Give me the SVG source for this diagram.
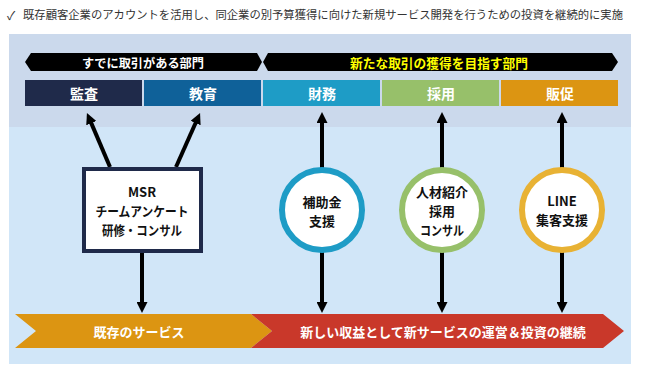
<svg xmlns="http://www.w3.org/2000/svg" width="645" height="368" viewBox="0 0 645 368">
<style>
text{font-family:"Noto Sans CJK JP","Noto Sans",sans-serif;text-anchor:middle;dominant-baseline:central}
.b{font-weight:bold}
.w{fill:#fff}
.dept{font-size:14px;font-weight:bold;fill:#fff}
.node{font-size:13px;font-weight:bold;fill:#111}
.conn{stroke:#000;stroke-width:4;fill:none}
</style>
<defs>
<marker id="ah" markerUnits="userSpaceOnUse" markerWidth="11" markerHeight="11" refX="3" refY="5.5" orient="auto">
<path d="M0,0 L11,5.5 L0,11 z" fill="#000"/>
</marker>
</defs>
<rect width="645" height="368" fill="#fff"/>
<g id="title">
<text x="11" y="14" style="font-size:12px;fill:#333">✓</text>
<text x="323" y="14" textLength="600" lengthAdjust="spacingAndGlyphs" style="font-size:11.5px;fill:#333">既存顧客企業のアカウントを活用し、同企業の別予算獲得に向けた新規サービス開発を行うための投資を継続的に実施</text>
</g>
<g id="panel">
<rect x="9" y="34" width="622" height="93" fill="#cbd9ec"/>
<rect x="9" y="127" width="622" height="237" fill="#d1e6f8"/>
</g>
<g id="banner-existing">
<polygon points="25,62 31,53 257,53 262,62 257,71 31,71" fill="#000"/>
<text x="143" y="62" class="b w" style="font-size:12.5px" textLength="122" lengthAdjust="spacingAndGlyphs">すでに取引がある部門</text>
</g>
<g id="banner-new">
<polygon points="263,62 268,53 612,53 618,62 612,71 268,71" fill="#000"/>
<text x="439" y="62" class="b" style="font-size:13px;fill:#ffff00" textLength="178" lengthAdjust="spacingAndGlyphs">新たな取引の獲得を目指す部門</text>
</g>
<g id="dept-kansa"><rect x="25" y="80" width="117" height="26" fill="#1f2a4a"/><text x="84" y="93" class="dept">監査</text></g>
<g id="dept-kyoiku"><rect x="144" y="80" width="117" height="26" fill="#0f6199"/><text x="203" y="93" class="dept">教育</text></g>
<g id="dept-zaimu"><rect x="263" y="80" width="117" height="26" fill="#1e9cc6"/><text x="322" y="93" class="dept">財務</text></g>
<g id="dept-saiyo"><rect x="382" y="80" width="117" height="26" fill="#97c06a"/><text x="441" y="93" class="dept">採用</text></g>
<g id="dept-hansoku"><rect x="501" y="80" width="117" height="26" fill="#dc9512"/><text x="560" y="93" class="dept">販促</text></g>
<g id="bottom-existing">
<polygon points="15,314 251,314 272,331 251,348 15,348 36,331" fill="#dc9512"/>
<text x="139" y="331" class="b w" style="font-size:13px">既存のサービス</text>
</g>
<g id="bottom-new">
<polygon points="251,314 603,314 624,331 603,348 251,348 272,331" fill="#c9382a"/>
<text x="443" y="331" class="b w" style="font-size:13px">新しい収益として新サービスの運営＆投資の継続</text>
</g>
<g id="connectors">
<line class="conn" x1="110" y1="167" x2="90.1" y2="120.4" marker-end="url(#ah)"/>
<line class="conn" x1="176" y1="167" x2="196.8" y2="120.3" marker-end="url(#ah)"/>
<line class="conn" x1="142" y1="251" x2="142" y2="305" marker-end="url(#ah)"/>
<line class="conn" x1="322" y1="172" x2="322" y2="120" marker-end="url(#ah)"/>
<line class="conn" x1="322" y1="248" x2="322" y2="305" marker-end="url(#ah)"/>
<line class="conn" x1="442" y1="172" x2="442" y2="120" marker-end="url(#ah)"/>
<line class="conn" x1="442" y1="248" x2="442" y2="305" marker-end="url(#ah)"/>
<line class="conn" x1="562" y1="172" x2="562" y2="120" marker-end="url(#ah)"/>
<line class="conn" x1="562" y1="248" x2="562" y2="305" marker-end="url(#ah)"/>
</g>
<g id="node-msr">
<rect x="84" y="169" width="117" height="82" fill="#fff" stroke="#1f2a4a" stroke-width="4"/>
<text x="142" y="191.5" class="node">MSR</text>
<text x="142" y="210.5" class="node" textLength="93" lengthAdjust="spacingAndGlyphs">チームアンケート</text>
<text x="142" y="229.5" class="node" textLength="80" lengthAdjust="spacingAndGlyphs">研修・コンサル</text>
</g>
<g id="node-hojokin">
<circle cx="322" cy="210" r="40" fill="#fff" stroke="#1e9cc6" stroke-width="6"/>
<text x="322" y="201" class="node">補助金</text>
<text x="322" y="220" class="node">支援</text>
</g>
<g id="node-jinzai">
<circle cx="442" cy="210" r="40" fill="#fff" stroke="#97c06a" stroke-width="6"/>
<text x="442" y="191" class="node">人材紹介</text>
<text x="442" y="210" class="node">採用</text>
<text x="442" y="229" class="node" textLength="44" lengthAdjust="spacingAndGlyphs">コンサル</text>
</g>
<g id="node-line">
<circle cx="562" cy="210" r="40" fill="#fff" stroke="#e8b234" stroke-width="6"/>
<text x="562" y="200" class="node">LINE</text>
<text x="562" y="219" class="node">集客支援</text>
</g>
</svg>
